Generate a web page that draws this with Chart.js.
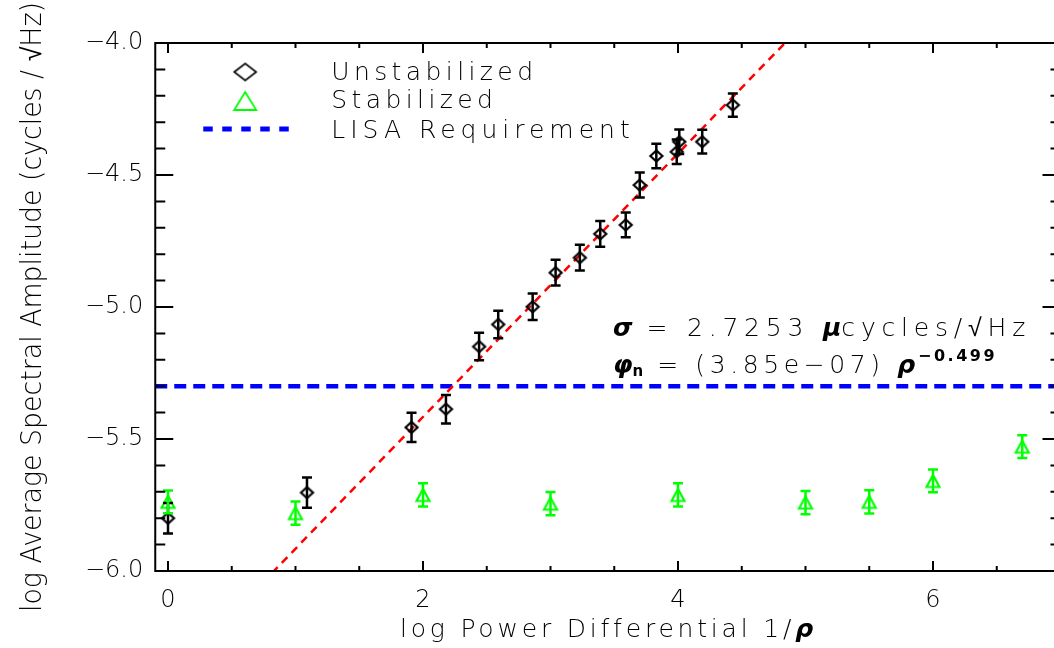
<!DOCTYPE html>
<html>
<head>
<meta charset="utf-8">
<script src="https://cdn.jsdelivr.net/npm/chart.js@4.4.1/dist/chart.umd.min.js"></script>
<style>
  html, body { margin: 0; padding: 0; background: #fff; overflow: hidden; }
  /* the right frame edge of the original sits just past the window edge */
  #box { width: 1061px; height: 648px; }
</style>
</head>
<body>
<div id="box"><canvas id="chart"></canvas></div>
<script>
// Unstabilized runs (black diamonds)
var unstabX   = [0.00, 1.09, 1.91, 2.18, 2.44, 2.59, 2.86, 3.04, 3.23, 3.39, 3.59, 3.70, 3.83, 3.99, 4.01, 4.19, 4.43];
var unstabY   = [-5.800, -5.703, -5.456, -5.387, -5.150, -5.066, -4.999, -4.870, -4.813, -4.723, -4.689, -4.538, -4.428, -4.412, -4.374, -4.374, -4.235];
var unstabErr = [0.058, 0.057, 0.055, 0.054, 0.052, 0.052, 0.050, 0.049, 0.049, 0.049, 0.047, 0.047, 0.046, 0.046, 0.046, 0.045, 0.044];

// Stabilized runs (green triangles)
var stabX   = [0, 1, 2, 3, 4, 5, 5.5, 6, 6.7];
var stabY   = [-5.738, -5.781, -5.712, -5.745, -5.712, -5.741, -5.738, -5.659, -5.529];
var stabErr = [0.043, 0.044, 0.044, 0.044, 0.044, 0.044, 0.044, 0.043, 0.043];

// power-law fit phi_n = A * rho^-k  ->  log phi = log A + k * log(1/rho)
var fitAmp = 3.85e-7;
var fitSlope = 0.499;
var lisaLevel = -5.3;

var xRange = [-0.1, 7.0];
var yRange = [-6.0, -4.0];
var xTicks = [0, 2, 4, 6];
var yTicks = [-6.0, -5.5, -5.0, -4.5, -4.0];

var FONT = "'DejaVu Sans', sans-serif";

function marker(kind, w, h, lw, color) {
  var c = document.createElement('canvas');
  c.width = Math.ceil(w + lw * 2);
  c.height = Math.ceil(h + lw * 2);
  var g = c.getContext('2d');
  var cx = c.width / 2, cy = c.height / 2;
  g.strokeStyle = color;
  g.lineWidth = lw;
  g.beginPath();
  if (kind === 'diamond') {
    g.moveTo(cx - w / 2, cy); g.lineTo(cx, cy - h / 2);
    g.lineTo(cx + w / 2, cy); g.lineTo(cx, cy + h / 2);
  } else {
    g.moveTo(cx - w / 2, cy + h / 2); g.lineTo(cx, cy - h / 2);
    g.lineTo(cx + w / 2, cy + h / 2);
  }
  g.closePath();
  g.stroke();
  return c;
}

var diamondPt = marker('diamond', 12, 11, 2.2, '#000');
var trianglePt = marker('triangle', 13, 12, 2.2, '#00ff00');
var diamondLeg = marker('diamond', 22, 17, 1.6, '#000');
var triangleLeg = marker('triangle', 22, 18, 1.8, '#00ff00');

var toPts = function (xs, ys) {
  return xs.map(function (x, i) { return {x: x, y: ys[i]}; });
};
var fitLine = xRange.map(function (x) {
  return {x: x, y: Math.log10(fitAmp) + fitSlope * x};
});
var lisaLine = xRange.map(function (x) { return {x: x, y: lisaLevel}; });

// draw a run of text pieces left to right, returns end x
var drawRun = function (ctx, pieces, x, y, spacing) {
  pieces.forEach(function (p) {
    ctx.save();
    ctx.font = (p.italic ? 'italic ' : '') + (p.bold ? 'bold ' : '300 ') + (p.size || 25) + 'px ' + FONT;
    ctx.letterSpacing = (p.ls === undefined ? spacing : p.ls) + 'px';
    ctx.fillStyle = '#000';
    ctx.textBaseline = 'alphabetic';
    ctx.fillText(p.t, x, y + (p.dy || 0));
    x += ctx.measureText(p.t).width + (p.gap || 0);
    ctx.restore();
  });
  return x;
};

var errorBars = {
  id: 'errorBars',
  afterDatasetsDraw: function (chart) {
    var ctx = chart.ctx, xs = chart.scales.x, ys = chart.scales.y;
    chart.data.datasets.forEach(function (ds) {
      if (!ds.errors) return;
      ctx.save();
      ctx.strokeStyle = ds.errColor;
      ctx.lineWidth = 2.5;
      ds.data.forEach(function (p, i) {
        var px = xs.getPixelForValue(p.x);
        var top = ys.getPixelForValue(p.y + ds.errors[i]);
        var bot = ys.getPixelForValue(p.y - ds.errors[i]);
        ctx.beginPath();
        ctx.moveTo(px, top); ctx.lineTo(px, bot);
        ctx.moveTo(px - 5, top); ctx.lineTo(px + 5, top);
        ctx.moveTo(px - 5, bot); ctx.lineTo(px + 5, bot);
        ctx.stroke();
      });
      ctx.restore();
    });
  }
};

var frame = {
  id: 'frame',
  afterDraw: function (chart) {
    var ctx = chart.ctx, a = chart.chartArea, xs = chart.scales.x, ys = chart.scales.y;
    ctx.save();
    ctx.strokeStyle = '#000';
    ctx.lineWidth = 2;
    ctx.strokeRect(a.left, a.top, a.right - a.left, a.bottom - a.top);
    ctx.beginPath();
    for (var k = 0; k <= 13; k++) {
      var px = xs.getPixelForValue(k * 0.5);
      var len = (k % 4 === 0) ? 10 : 5;
      ctx.moveTo(px, a.bottom); ctx.lineTo(px, a.bottom - len);
      ctx.moveTo(px, a.top); ctx.lineTo(px, a.top + len);
    }
    for (var j = 0; j <= 20; j++) {
      var py = ys.getPixelForValue(yRange[0] + j * 0.1);
      var ylen = (j % 5 === 0) ? 18 : 10;
      ctx.moveTo(a.left, py); ctx.lineTo(a.left + ylen, py);
      ctx.moveTo(a.right, py); ctx.lineTo(a.right - ylen, py);
    }
    ctx.stroke();
    ctx.restore();
  }
};

var texts = {
  id: 'texts',
  afterDraw: function (chart) {
    var ctx = chart.ctx, a = chart.chartArea, xs = chart.scales.x, ys = chart.scales.y;

    // axis titles
    drawRun(ctx, [{t: 'log Power Differential 1/'}, {t: 'ρ', italic: true, bold: true}], 400, 637, 3.8);
    ctx.save();
    ctx.translate(41, 612);
    ctx.rotate(-Math.PI / 2);
    ctx.font = '300 28px ' + FONT;
    ctx.fillStyle = '#000';
    ctx.fillText('log Average Spectral Amplitude (cycles / √Hz)', 0, 0, 610);
    ctx.restore();

    // legend
    var lx = a.left + 90;
    ctx.drawImage(diamondLeg, lx - diamondLeg.width / 2, 72 - diamondLeg.height / 2);
    ctx.drawImage(triangleLeg, lx - triangleLeg.width / 2, 101 - triangleLeg.height / 2);
    ctx.save();
    ctx.strokeStyle = '#0000ff';
    ctx.lineWidth = 5;
    ctx.setLineDash([9.5, 9.5]);
    ctx.beginPath();
    ctx.moveTo(lx - 42, 129); ctx.lineTo(lx + 44, 129);
    ctx.stroke();
    ctx.restore();
    drawRun(ctx, [{t: 'Unstabilized'}], a.left + 176, 80, 4.4);
    drawRun(ctx, [{t: 'Stabilized'}], a.left + 176, 108, 4.4);
    drawRun(ctx, [{t: 'LISA Requirement'}], a.left + 176, 138, 5);

    // fit annotation
    var tx = xs.getPixelForValue(3.49);
    drawRun(ctx, [
      {t: 'σ', italic: true, bold: true, ls: 0, gap: 14},
      {t: '= 2.7253 '},
      {t: 'μ', italic: true, bold: true, ls: 0},
      {t: 'cycles/√Hz'}
    ], tx, ys.getPixelForValue(-5.11), 5.8);
    drawRun(ctx, [
      {t: 'φ', italic: true, bold: true, ls: 0},
      {t: 'n', bold: true, size: 15, dy: 3, ls: 0, gap: 14},
      {t: '= (3.85e−07) '},
      {t: 'ρ', italic: true, bold: true, ls: 0, gap: 3},
      {t: '−0.499', bold: true, size: 16, dy: -12, ls: 2.5}
    ], tx, ys.getPixelForValue(-5.25), 4.6);
  }
};

new Chart(document.getElementById('chart'), {
  type: 'scatter',
  data: {
    datasets: [
      {
        label: 'Unstabilized', data: toPts(unstabX, unstabY),
        errors: unstabErr, errColor: '#000',
        pointStyle: diamondPt, pointRadius: 6, order: 1
      },
      {
        label: 'Stabilized', data: toPts(stabX, stabY),
        errors: stabErr, errColor: '#00ff00',
        pointStyle: trianglePt, pointRadius: 7, order: 2
      },
      {
        label: 'fit', data: fitLine, showLine: true, pointRadius: 0,
        borderColor: '#ff0000', borderWidth: 2.5, borderDash: [8, 6], order: 3, clip: 0
      },
      {
        label: 'LISA Requirement', data: lisaLine, showLine: true, pointRadius: 0,
        borderColor: '#0000ff', borderWidth: 4.5, borderDash: [12, 7], order: 4, clip: 0
      }
    ]
  },
  options: {
    responsive: true, maintainAspectRatio: false, animation: false,
    layout: {padding: {top: 43, right: 0.5, left: 0, bottom: 0}, autoPadding: false},
    plugins: {legend: {display: false}, tooltip: {enabled: false}},
    scales: {
      x: {
        type: 'linear', min: xRange[0], max: xRange[1],
        afterFit: function (s) { s.height = 77; },
        afterBuildTicks: function (s) { s.ticks = xTicks.map(function (v) { return {value: v}; }); },
        grid: {display: false, drawTicks: false}, border: {display: false},
        ticks: {
          color: '#000', padding: 15, maxRotation: 0,
          font: {family: FONT, size: 24, weight: '300'},
          callback: function (v) { return String(v); }
        }
      },
      y: {
        type: 'linear', min: yRange[0], max: yRange[1],
        afterFit: function (s) { s.width = 155.25; },
        afterBuildTicks: function (s) { s.ticks = yTicks.map(function (v) { return {value: v}; }); },
        grid: {display: false, drawTicks: false}, border: {display: false},
        ticks: {
          color: '#000', padding: 12,
          font: {family: FONT, size: 24, weight: '300'},
          callback: function (v) { return '\u2212' + Math.abs(v).toFixed(1); }
        }
      }
    }
  },
  plugins: [errorBars, frame, texts]
});
</script>
</body>
</html>
